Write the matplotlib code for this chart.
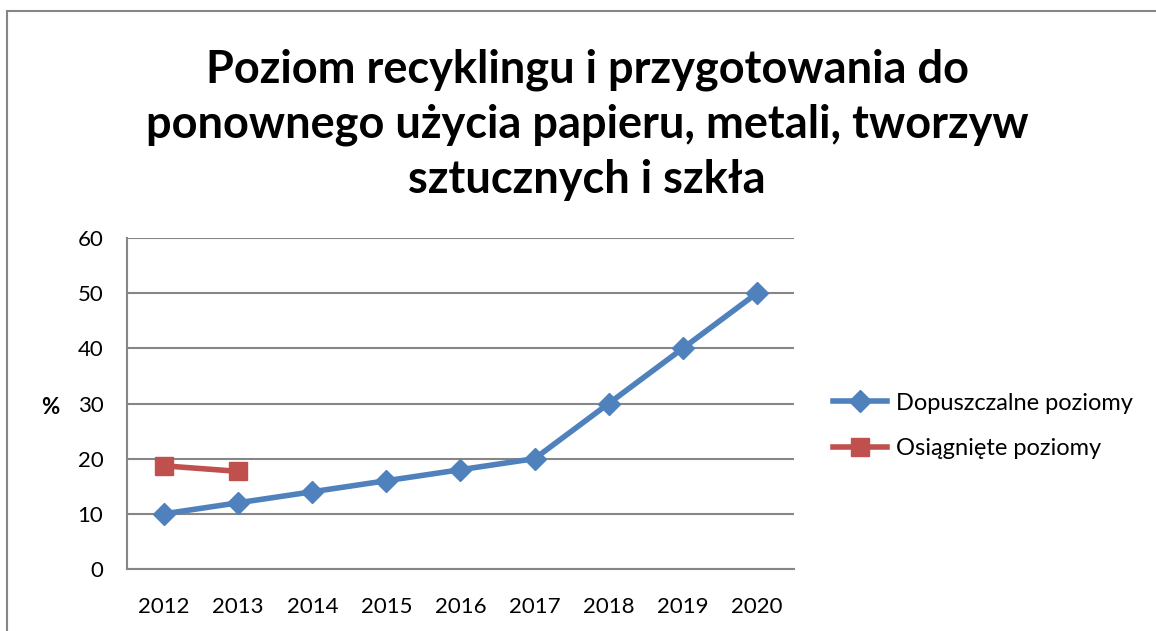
import numpy as np
import matplotlib.pyplot as plt
from matplotlib.patches import Rectangle

years = ['2012', '2013', '2014', '2015', '2016', '2017', '2018', '2019', '2020']
dopuszczalne = [10, 12, 14, 16, 18, 20, 30, 40, 50]
osiagniete = [18.7, 17.7]

title = 'Poziom recyklingu i przygotowania do\nponownego użycia papieru, metali, tworzyw\nsztucznych i szkła'

plt.rcParams['font.family'] = ['Lato', 'DejaVu Sans']

W, H = 1156, 631
fig = plt.figure(figsize=(W / 100, H / 100), dpi=100)

# outer frame of the chart (cut on the right and bottom)
fig.patches.append(Rectangle((7 / W, -0.1), 1.2, (H - 11) / H + 0.1,
                             transform=fig.transFigure, fill=False,
                             edgecolor='#868686', linewidth=1.5))

ax = fig.add_axes([127 / W, 1 - 569 / H, (794 - 127) / W, (569 - 238) / H])
x = np.arange(len(years))

ax.plot(x, dopuszczalne, color='#4F81BD', linewidth=4, marker='D',
        markersize=11, label='Dopuszczalne poziomy')
ax.plot(x[:len(osiagniete)], osiagniete, color='#C0504D', linewidth=4,
        marker='s', markersize=13, label='Osiągnięte poziomy')

ax.set_xlim(-0.5, len(years) - 0.5)
ax.set_ylim(0, 60)
ax.set_yticks(range(0, 61, 10))
ax.set_xticks(x)
ax.set_xticklabels(years)
ax.yaxis.grid(True, color='#868686', linewidth=1.5)
ax.set_axisbelow(True)
for s in ['top', 'right']:
    ax.spines[s].set_visible(False)
for s in ['left', 'bottom']:
    ax.spines[s].set_color('#868686')
    ax.spines[s].set_linewidth(1.5)
ax.tick_params(axis='both', length=0, labelsize=16, colors='black')
ax.tick_params(axis='x', pad=20)
ax.tick_params(axis='y', pad=17)

fig.text(50 / W, 1 - 408 / H, '%', fontsize=16, fontweight='bold',
         ha='center', va='center')

fig.text(0.5 * (147 + 1027) / W, 1 - 125 / H, title, fontsize=32.5,
         fontweight='bold', ha='center', va='center', linespacing=1.38)

ax.legend(loc='center left', bbox_to_anchor=(1.058, 0.432), frameon=False,
          fontsize=17, handlelength=2.3, handletextpad=0.4,
          labelspacing=1.05, borderaxespad=0, borderpad=0)

fig.savefig('out.png', dpi=100)
